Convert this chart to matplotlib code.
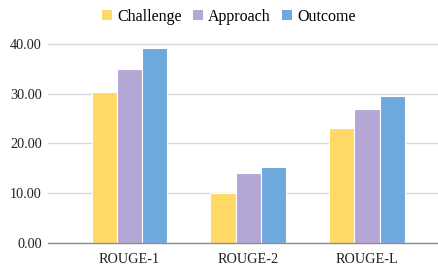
import numpy as np
import matplotlib.pyplot as plt
from matplotlib.patches import Patch

# Données
categories = ["ROUGE-1", "ROUGE-2", "ROUGE-L"]
series = ["Challenge", "Approach", "Outcome"]
challenge = [30.3, 10.1, 23.0]
approach = [34.9, 14.0, 26.9]
outcome = [39.1, 15.2, 29.5]
yticks = [0, 10, 20, 30, 40]

colors = ["#FFD966", "#B4A7D6", "#6FA8DC"]

plt.rcParams['font.family'] = 'serif'
plt.rcParams['font.serif'] = ['Liberation Serif', 'Times New Roman', 'DejaVu Serif']

fig = plt.figure(figsize=(4.38, 2.67), dpi=100)
ax = fig.add_axes([48 / 438, 1 - 242.7 / 267, 390 / 438, (242.7 - 30) / 267])

x = np.arange(len(categories))
w = 0.213
for i, (vals, name) in enumerate(zip([challenge, approach, outcome], series)):
    ax.bar(x + (i - 1) * w, vals, width=w, color=colors[i], edgecolor="white",
           linewidth=0.8, label=name, zorder=3)

ax.set_xlim(-0.686, 2.598)
ax.set_ylim(0, 40 * (242.7 - 30) / (242.7 - 44))
ax.set_yticks(yticks)
ax.set_yticklabels([f"{v:.2f}" for v in yticks])
ax.set_xticks(x)
ax.set_xticklabels(categories)
ax.tick_params(axis='both', length=0, labelsize=10.3, colors="#222222")
ax.tick_params(axis='y', pad=4.5)
ax.tick_params(axis='x', pad=7.5)

ax.grid(True, axis='y', color="#D9D9D9", linewidth=1, zorder=0)
for s in ["top", "right", "left"]:
    ax.spines[s].set_visible(False)
ax.spines["bottom"].set_color("#8C8C8C")
ax.spines["bottom"].set_linewidth(1)
ax.spines["bottom"].set_zorder(4)

handles = [Patch(facecolor=c, edgecolor="none") for c in colors]
fig.legend(handles, series, loc="center", bbox_to_anchor=(229 / 438, 1 - 17 / 267),
           ncol=3, frameon=False, fontsize=11.5, handlelength=0.6, handleheight=0.6,
           handletextpad=0.35, columnspacing=0.7)

fig.savefig("out.png", dpi=100)
